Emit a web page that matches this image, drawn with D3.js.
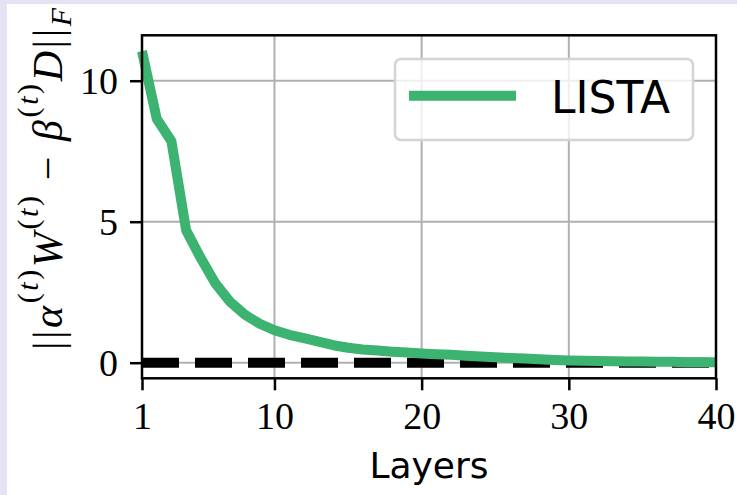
<!DOCTYPE html>
<html>
<head>
<meta charset="utf-8">
<script src="https://cdn.jsdelivr.net/npm/d3@7"></script>
<style>
  html, body { margin: 0; padding: 0; background: #e3e3f3; }
  svg { display: block; }
</style>
</head>
<body>
<div id="chart"></div>
<script>
// LISTA residual per layer
const layers = d3.range(1, 41);
const listaValues = [11.05, 8.65, 7.85, 4.69, 3.7, 2.8, 2.15, 1.7, 1.38, 1.15,
    0.99, 0.87, 0.75, 0.62, 0.53, 0.47, 0.43, 0.39, 0.36, 0.33,
    0.30, 0.28, 0.25, 0.22, 0.19, 0.17, 0.15, 0.12, 0.10, 0.08,
    0.07, 0.06, 0.05, 0.04, 0.04, 0.03, 0.03, 0.02, 0.02, 0.02];
const zeroLine = [0, 0];
const xTicks = [1, 10, 20, 30, 40];
const yTicks = [0, 5, 10];
const legendLabel = "LISTA";
const xLabel = "Layers";

const width = 737;
const height = 495;
const green = "#3cb371";

const svg = d3.select("#chart")
    .append("svg")
    .attr("width", width)
    .attr("height", height);

// white figure area, lavender shows at the top and left edges
svg.append("rect")
    .attr("x", 7).attr("y", 4)
    .attr("width", width - 7).attr("height", height - 4)
    .attr("fill", "#ffffff");

const x = d3.scaleLinear().domain([1, 40]).range([142, 716]);
const y = d3.scaleLinear().domain([-0.553, 11.61]).range([378.3, 35.3]);

// grid lines
const grid = svg.append("g");
grid.selectAll("line.gx")
    .data(xTicks)
    .enter().append("line")
    .attr("x1", d => x(d)).attr("x2", d => x(d))
    .attr("y1", y.range()[0]).attr("y2", y.range()[1])
    .attr("stroke", "#b0b0b0").attr("stroke-width", 2);
grid.selectAll("line.gy")
    .data(yTicks)
    .enter().append("line")
    .attr("y1", d => y(d)).attr("y2", d => y(d))
    .attr("x1", x.range()[0]).attr("x2", x.range()[1])
    .attr("stroke", "#b0b0b0").attr("stroke-width", 2);

// dashed zero reference
svg.append("line")
    .attr("x1", x(1)).attr("x2", x(40))
    .attr("y1", y(zeroLine[0])).attr("y2", y(zeroLine[1]))
    .attr("stroke", "#000").attr("stroke-width", 10)
    .attr("stroke-dasharray", "37,16");

// LISTA curve
const line = d3.line()
    .x((d, i) => x(layers[i]))
    .y(d => y(d));

svg.append("path")
    .datum(listaValues)
    .attr("d", line)
    .attr("fill", "none")
    .attr("stroke", green)
    .attr("stroke-width", 10)
    .attr("stroke-linejoin", "round");

// axes
const xAxis = d3.axisBottom(x).tickValues(xTicks).tickSize(12).tickPadding(12).tickFormat(d3.format("d"));
const yAxis = d3.axisLeft(y).tickValues(yTicks).tickSize(12).tickPadding(12).tickFormat(d3.format("d"));

const gx = svg.append("g")
    .attr("transform", `translate(0,${y.range()[0]})`)
    .call(xAxis);
const gy = svg.append("g")
    .attr("transform", `translate(${x.range()[0]},0)`)
    .call(yAxis);

[gx, gy].forEach(g => {
    g.select(".domain").remove();
    g.selectAll(".tick line").attr("stroke", "#000").attr("stroke-width", 2.5);
    g.selectAll(".tick text")
        .attr("fill", "#000")
        .style("font-family", "'Liberation Serif', 'DejaVu Serif', serif")
        .style("font-size", "38px");
});
gy.selectAll(".tick text").attr("dy", "0.34em");

// spines
svg.append("rect")
    .attr("x", x.range()[0]).attr("y", y.range()[1])
    .attr("width", x.range()[1] - x.range()[0])
    .attr("height", y.range()[0] - y.range()[1])
    .attr("fill", "none")
    .attr("stroke", "#000")
    .attr("stroke-width", 2.5);

// x label
svg.append("text")
    .attr("x", (x.range()[0] + x.range()[1]) / 2)
    .attr("y", 478)
    .attr("text-anchor", "middle")
    .style("font-family", "'DejaVu Sans', sans-serif")
    .style("font-size", "36px")
    .text(xLabel);

// y label: ||alpha^(t) W^(t) - beta^(t) D||_F
const yl = svg.append("text")
    .attr("transform", "translate(62,350) rotate(-90)")
    .attr("text-anchor", "start")
    .attr("textLength", 342)
    .attr("lengthAdjust", "spacing")
    .style("font-family", "'Liberation Serif', 'DejaVu Serif', serif")
    .style("font-size", "42px");
const mathPieces = [
    { t: "||", italic: false },
    { t: "\u03b1", italic: true },
    { t: "(", sup: true }, { t: "t", sup: true, italic: true }, { t: ")", sup: true },
    { t: "W", italic: true },
    { t: "(", sup: true }, { t: "t", sup: true, italic: true }, { t: ")", sup: true },
    { t: " \u2212 ", italic: false },
    { t: "\u03b2", italic: true },
    { t: "(", sup: true }, { t: "t", sup: true, italic: true }, { t: ")", sup: true },
    { t: "D", italic: true },
    { t: "||", italic: false },
    { t: "F", sub: true, italic: true }
];
let prevShift = 0;
mathPieces.forEach(p => {
    const shift = p.sup ? -24 : (p.sub ? 9 : 0);
    yl.append("tspan")
        .attr("dy", shift - prevShift)
        .style("font-style", p.italic ? "italic" : "normal")
        .style("font-size", (p.sup || p.sub) ? "30px" : "42px")
        .text(p.t);
    prevShift = shift;
});

// legend
const lg = svg.append("g");
lg.append("rect")
    .attr("x", 395).attr("y", 59)
    .attr("width", 298).attr("height", 81)
    .attr("rx", 6)
    .attr("fill", "rgba(255,255,255,0.8)")
    .attr("stroke", "#d4d4d4")
    .attr("stroke-width", 2.5);
lg.append("line")
    .attr("x1", 409).attr("x2", 516)
    .attr("y1", 95.7).attr("y2", 95.7)
    .attr("stroke", green).attr("stroke-width", 10);
lg.append("text")
    .attr("x", 551).attr("y", 112.7)
    .style("font-family", "'DejaVu Sans', sans-serif")
    .style("font-size", "44px")
    .text(legendLabel);
</script>
</body>
</html>
